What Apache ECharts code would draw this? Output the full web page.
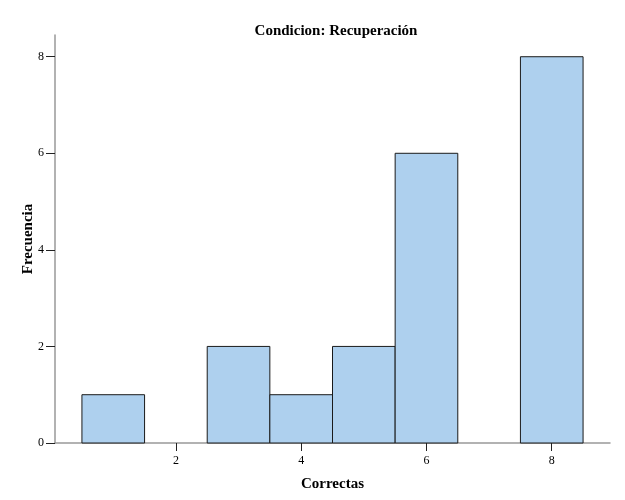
<!DOCTYPE html>
<html><head><meta charset="utf-8">
<script src="https://cdn.jsdelivr.net/npm/echarts@6/dist/echarts.min.js"></script>
<style>html,body{margin:0;padding:0;background:#fff}#c{width:625px;height:500px}</style>
</head><body><div id="c"></div>
<script>
var title = 'Condicion: Recuperación';
var xName = 'Correctas';
var yName = 'Frecuencia';
var binCenters = [1, 2, 3, 4, 5, 6, 7, 8];
var frequencies = [1, 0, 2, 1, 2, 6, 0, 8];
var binWidth = 1;
var xTicks = [2, 4, 6, 8];
var yTicks = [0, 2, 4, 6, 8];

var font = '"Liberation Serif", "DejaVu Serif", serif';
var chart = echarts.init(document.getElementById('c'), null, {renderer: 'canvas'});
var data = binCenters.map(function (c, i) { return [c, frequencies[i]]; });

chart.setOption({
  animation: false,
  backgroundColor: '#fff',
  title: {text: title, left: 331, top: 19, textAlign: 'center',
    textStyle: {fontFamily: font, fontSize: 15, fontWeight: 'bold', color: '#000'}},
  grid: {left: 55, right: 15, top: 35, bottom: 57},
  xAxis: {
    type: 'value', min: 0.07, max: 8.93,
    name: xName, nameLocation: 'middle', nameGap: 34,
    nameTextStyle: {fontFamily: font, fontSize: 15, fontWeight: 'bold', color: '#000'},
    axisLine: {show: true, lineStyle: {color: '#999', width: 1.5}},
    axisTick: {show: true, customValues: xTicks, length: 8, lineStyle: {color: '#222'}},
    axisLabel: {customValues: xTicks, margin: 12, fontFamily: font, fontSize: 12, color: '#000'},
    splitLine: {show: false}
  },
  yAxis: {
    type: 'value', min: 0, max: 8.45,
    name: yName, nameLocation: 'middle', nameGap: 19, nameRotate: 90,
    nameMoveOverlap: false,
    nameTextStyle: {fontFamily: font, fontSize: 15, fontWeight: 'bold', color: '#000'},
    axisLine: {show: true, lineStyle: {color: '#999', width: 1.5}},
    axisTick: {show: true, customValues: yTicks, length: 9, lineStyle: {color: '#222'}},
    axisLabel: {customValues: yTicks, margin: 11, fontFamily: font, fontSize: 12, color: '#000'},
    splitLine: {show: false}
  },
  series: [{
    type: 'custom',
    data: data,
    renderItem: function (params, api) {
      var c = api.value(0), v = api.value(1);
      if (!v) return null;
      var p0 = api.coord([c - binWidth / 2, v]);
      var p1 = api.coord([c + binWidth / 2, 0]);
      return {
        type: 'rect',
        shape: {x: p0[0], y: p0[1], width: p1[0] - p0[0], height: p1[1] - p0[1]},
        style: {fill: '#aed0ee', stroke: '#1a1a1a', lineWidth: 1}
      };
    }
  }]
});
</script></body></html>
